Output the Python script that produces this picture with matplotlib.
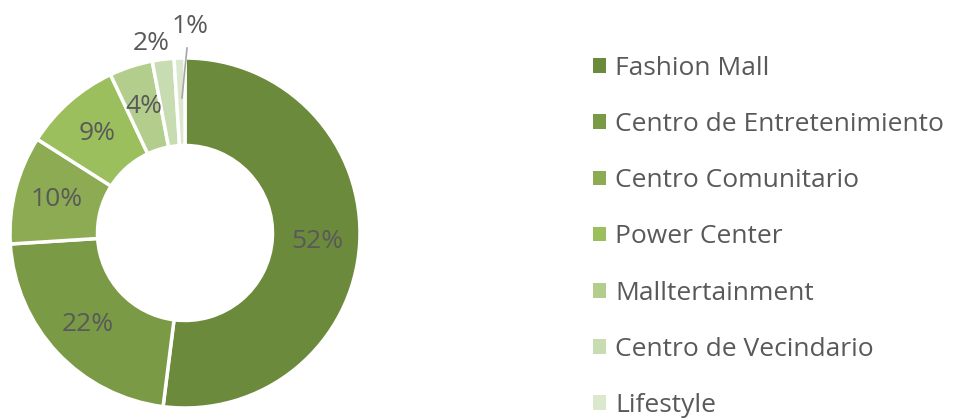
import matplotlib.pyplot as plt
from matplotlib.patches import Patch
import numpy as np

categories = ['Fashion Mall', 'Centro de Entretenimiento', 'Centro Comunitario',
              'Power Center', 'Malltertainment', 'Centro de Vecindario', 'Lifestyle']
shares = [52, 22, 10, 9, 4, 2, 1]
colors = ['#6b8a3c', '#7a9a46', '#8cab53', '#9cbf5d', '#b2cd8c', '#c8dcb2', '#dbe8cd']

plt.rcParams['font.family'] = ['Open Sans', 'DejaVu Sans']
txt = '#595959'

fig = plt.figure(figsize=(9.6, 4.2), dpi=100)
ax = fig.add_axes([10 / 960, 12 / 420, 350 / 960, 350 / 420])

wedges, _ = ax.pie(shares, colors=colors, startangle=90, counterclock=False,
                   radius=1, wedgeprops=dict(width=0.5, edgecolor='white', linewidth=2.5))
ax.set_xlim(-1, 1)
ax.set_ylim(-1, 1)
ax.set_aspect('equal')
ax.axis('off')

for w, v in zip(wedges, shares):
    mid = np.deg2rad((w.theta1 + w.theta2) / 2)
    if v >= 4:
        r = 0.76
        ax.text(r * np.cos(mid), r * np.sin(mid), f'{v}%', ha='center', va='center',
                fontsize=19, color=txt)

# small slices labelled outside
a2 = np.deg2rad(100)
ax.text(1.1 * np.cos(a2), 1.1 * np.sin(a2), '2%', ha='center', va='center',
        fontsize=19, color=txt, clip_on=False)
a1 = np.deg2rad(88.6)
ax.text(1.18 * np.cos(a1), 1.18 * np.sin(a1), '1%', ha='center', va='center',
        fontsize=19, color=txt, clip_on=False)
ax.plot([-3 / 175, 2 / 175], [135 / 175, 185 / 175], color='#a6a6a6', lw=1.2, clip_on=False)

handles = [Patch(facecolor=c, edgecolor='none') for c in colors]
fig.legend(handles, categories, loc='upper left', bbox_to_anchor=(593 / 960, 1 - 56 / 420),
           frameon=False, fontsize=19, labelcolor=txt, handlelength=0.48, handleheight=0.48,
           handletextpad=0.36, labelspacing=1.18, borderaxespad=0, borderpad=0)

fig.savefig('out.png', dpi=100)
